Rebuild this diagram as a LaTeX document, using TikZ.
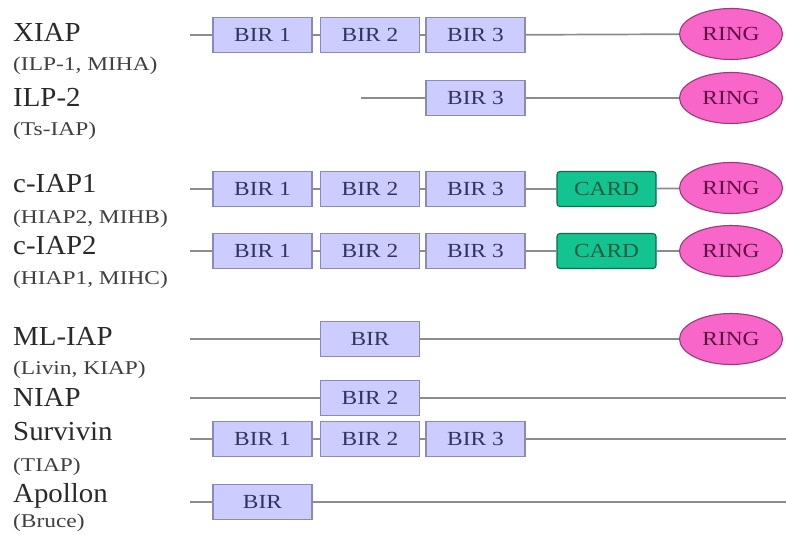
\documentclass[tikz,border=0pt]{standalone}
\usepackage{fontspec}
\setmainfont{Liberation Serif}
\newfontfamily\namefont[FakeStretch=1.05]{Liberation Serif}
\newfontfamily\subfont[FakeStretch=1.2]{Liberation Serif}
\newfontfamily\boxfont[FakeStretch=1.17]{Liberation Serif}
\usetikzlibrary{shapes.geometric}
\definecolor{birfill}{HTML}{CCCCFF}
\definecolor{birline}{HTML}{8A8AB8}
\definecolor{birtext}{HTML}{33335E}
\definecolor{cardfill}{HTML}{14C490}
\definecolor{cardline}{HTML}{0B6B4A}
\definecolor{cardtext}{HTML}{1B5E42}
\definecolor{ringfill}{HTML}{F766C8}
\definecolor{ringline}{HTML}{9A3A78}
\definecolor{ringtext}{HTML}{5E1040}
\definecolor{connline}{HTML}{8C8C8C}
\definecolor{nametext}{HTML}{2A2A2A}
\definecolor{subtext}{HTML}{404040}
\tikzset{
  bir/.style={draw=birline, fill=birfill, line width=1.1bp, minimum width=99bp, minimum height=35bp, inner sep=0pt, text=birtext, font=\boxfont\fontsize{20bp}{22bp}\selectfont},
  card/.style={draw=cardline, fill=cardfill, line width=1.1bp, rounded corners=3bp, minimum width=99bp, minimum height=35bp, inner sep=0pt, text=cardtext, font=\boxfont\fontsize{20bp}{22bp}\selectfont},
  ring/.style={ellipse, draw=ringline, fill=ringfill, line width=1.1bp, minimum width=103bp, minimum height=51bp, inner sep=0pt, text=ringtext, font=\boxfont\fontsize{20bp}{22bp}\selectfont},
  conn/.style={draw=connline, line width=1.7bp},
  pname/.style={anchor=base west, inner sep=0pt, text=nametext, font=\namefont\fontsize{27.5bp}{30bp}\selectfont},
  psub/.style={anchor=base west, inner sep=0pt, text=subtext, font=\subfont\fontsize{19.5bp}{22bp}\selectfont}
}
\begin{document}
\begin{tikzpicture}[x=1bp,y=-1bp]
\useasboundingbox[fill=white] (0,0) rectangle (786,535);

% ---------- labels ----------
\node[pname] (nXIAP) at (13,42) {XIAP};
\node[psub]  (sXIAP) at (13,71) {(ILP-1, MIHA)};
\node[pname] (nILP)  at (13,107) {ILP-2};
\node[psub]  (sILP)  at (13,136) {(Ts-IAP)};
\node[pname] (nC1)   at (13,193) {c-IAP1};
\node[psub]  (sC1)   at (13,224) {(HIAP2, MIHB)};
\node[pname] (nC2)   at (13,255) {c-IAP2};
\node[psub]  (sC2)   at (13,285) {(HIAP1, MIHC)};
\node[pname] (nML)   at (13,345) {ML-IAP};
\node[psub]  (sML)   at (13,374) {(Livin, KIAP)};
\node[pname] (nNI)   at (13,406) {NIAP};
\node[pname] (nSU)   at (13,440) {Survivin};
\node[psub]  (sSU)   at (13,471) {(TIAP)};
\node[pname] (nAP)   at (13,502) {Apollon};
\node[psub]  (sAP)   at (13,527) {(Bruce)};

% ---------- XIAP ----------
\coordinate (x0) at (190,35);
\node[bir] (x1) at (262.5,35) {BIR 1};
\node[bir] (x2) at (370,35) {BIR 2};
\node[bir] (x3) at (475.5,35) {BIR 3};
\node[ring] (xr) at (731,34) {RING};
\draw[conn] (x0) -- (x1) (x1) -- (x2) (x2) -- (x3) (x3) -- (xr);

% ---------- ILP-2 ----------
\coordinate (i0) at (361,98);
\node[bir] (i3) at (475.5,98) {BIR 3};
\node[ring] (ir) at (731,98) {RING};
\draw[conn] (i0) -- (i3) (i3) -- (ir);

% ---------- c-IAP1 ----------
\coordinate (a0) at (190,189);
\node[bir] (a1) at (262.5,189) {BIR 1};
\node[bir] (a2) at (370,189) {BIR 2};
\node[bir] (a3) at (475.5,189) {BIR 3};
\node[card] (ac) at (606.5,189) {CARD};
\node[ring] (ar) at (731,188) {RING};
\draw[conn] (a0) -- (a1) (a1) -- (a2) (a2) -- (a3) (a3) -- (ac) (ac) -- (ar);

% ---------- c-IAP2 ----------
\coordinate (b0) at (190,251);
\node[bir] (b1) at (262.5,251) {BIR 1};
\node[bir] (b2) at (370,251) {BIR 2};
\node[bir] (b3) at (475.5,251) {BIR 3};
\node[card] (bc) at (606.5,251) {CARD};
\node[ring] (br) at (731,251) {RING};
\draw[conn] (b0) -- (b1) (b1) -- (b2) (b2) -- (b3) (b3) -- (bc) (bc) -- (br);

% ---------- ML-IAP ----------
\coordinate (m0) at (190,339);
\node[bir] (m1) at (370,339) {BIR};
\node[ring] (mr) at (731,339) {RING};
\draw[conn] (m0) -- (m1) (m1) -- (mr);

% ---------- NIAP ----------
\coordinate (n0) at (190,398);
\node[bir] (n2) at (370,398) {BIR 2};
\coordinate (ne) at (786,398);
\draw[conn] (n0) -- (n2) (n2) -- (ne);

% ---------- Survivin ----------
\coordinate (s0) at (190,439);
\node[bir] (s1) at (262.5,439) {BIR 1};
\node[bir] (s2) at (370,439) {BIR 2};
\node[bir] (s3) at (475.5,439) {BIR 3};
\coordinate (se) at (786,439);
\draw[conn] (s0) -- (s1) (s1) -- (s2) (s2) -- (s3) (s3) -- (se);

% ---------- Apollon ----------
\coordinate (p0) at (190,502);
\node[bir] (p1) at (262.5,502) {BIR};
\coordinate (pe) at (786,502);
\draw[conn] (p0) -- (p1) (p1) -- (pe);
\end{tikzpicture}
\end{document}
